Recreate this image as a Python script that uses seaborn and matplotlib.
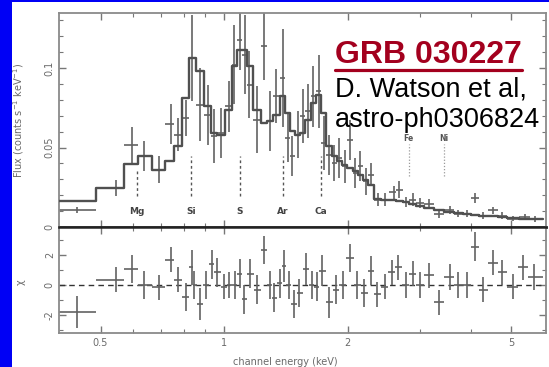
import numpy as np
import matplotlib
matplotlib.use('Agg')
import matplotlib.pyplot as plt
import seaborn as sns
from matplotlib.patches import Rectangle
from matplotlib.lines import Line2D

# ---------------- data ----------------
energy = [0.4385, 0.544, 0.598, 0.639, 0.695, 0.741, 0.772, 0.806, 0.835, 0.875,
          0.916, 0.946, 0.981, 1.030, 1.057, 1.092, 1.125, 1.152, 1.205, 1.253,
          1.291, 1.342, 1.391, 1.430, 1.466, 1.510, 1.555, 1.602, 1.650, 1.699,
          1.750, 1.803, 1.856, 1.911, 1.968, 2.027, 2.088, 2.150, 2.214, 2.281,
          2.372, 2.467, 2.592, 2.669, 2.776, 2.887, 3.002, 3.153, 3.344, 3.547,
          3.726, 3.913, 4.087, 4.275, 4.533, 4.762, 5.050, 5.410, 5.738]
flux = [0.0105, 0.0245, 0.0514, 0.0444, 0.0361, 0.0650, 0.0581, 0.0686, 0.1063, 0.0769,
        0.0706, 0.0570, 0.0591, 0.0759, 0.1021, 0.1178, 0.1084, 0.0895, 0.0675, 0.1136,
        0.0665, 0.0822, 0.0937, 0.0560, 0.0444, 0.0581, 0.0696, 0.0727, 0.0822, 0.0853,
        0.0528, 0.0455, 0.0403, 0.0434, 0.0382, 0.0549, 0.0340, 0.0382, 0.0287, 0.0329,
        0.0172, 0.0172, 0.0218, 0.0235, 0.0155, 0.0172, 0.0151, 0.0147, 0.0084, 0.0105,
        0.0084, 0.0084, 0.0182, 0.0071, 0.0105, 0.0071, 0.0052, 0.0063, 0.0050]
flux_err = [0.0020, 0.0050, 0.0115, 0.0094, 0.0084, 0.0126, 0.0105, 0.0115, 0.0270, 0.0230,
            0.0190, 0.0170, 0.0160, 0.0160, 0.0250, 0.0190, 0.0250, 0.0210, 0.0210, 0.0210,
            0.0190, 0.0170, 0.0310, 0.0150, 0.0126, 0.0150, 0.0170, 0.0170, 0.0190, 0.0230,
            0.0170, 0.0126, 0.0115, 0.0126, 0.0105, 0.0126, 0.0094, 0.0094, 0.0084, 0.0073,
            0.0042, 0.0042, 0.0042, 0.0052, 0.0031, 0.0042, 0.0031, 0.0031, 0.0025, 0.0025,
            0.0021, 0.0021, 0.0031, 0.0021, 0.0021, 0.0021, 0.0017, 0.0017, 0.0017]
model = [0.0166, 0.0245, 0.0396, 0.0449, 0.0361, 0.0413, 0.0507, 0.0811, 0.1063, 0.0983,
         0.0759, 0.0591, 0.0581, 0.0738, 0.1010, 0.1115, 0.1115, 0.1010, 0.0738, 0.0654,
         0.0665, 0.0706, 0.0822, 0.0717, 0.0602, 0.0581, 0.0591, 0.0675, 0.0780, 0.0832,
         0.0717, 0.0507, 0.0444, 0.0413, 0.0392, 0.0371, 0.0350, 0.0329, 0.0298, 0.0266,
         0.0176, 0.0172, 0.0172, 0.0166, 0.0155, 0.0147, 0.0134, 0.0119, 0.0105, 0.0096,
         0.0088, 0.0082, 0.0075, 0.0071, 0.0067, 0.0063, 0.0055, 0.0052, 0.0050]

res_energy = [0.4385, 0.544, 0.598, 0.639, 0.695, 0.741, 0.772, 0.806, 0.835, 0.846,
              0.875, 0.906, 0.934, 0.961, 1.000, 1.030, 1.061, 1.092, 1.121, 1.159,
              1.205, 1.253, 1.291, 1.322, 1.369, 1.396, 1.438, 1.481, 1.525, 1.586,
              1.634, 1.682, 1.733, 1.803, 1.874, 1.949, 2.027, 2.109, 2.193, 2.281,
              2.362, 2.467, 2.566, 2.658, 2.776, 2.887, 3.002, 3.153, 3.344, 3.547,
              3.726, 3.913, 4.087, 4.275, 4.533, 4.762, 5.050, 5.356, 5.682]
chi = [-1.79, 0.36, 1.05, 0.00, -0.15, 1.68, 0.36, -0.80, 1.16, 0.00,
       -1.26, 0.00, 1.37, 0.84, -0.11, 0.00, 0.00, 0.74, -0.95, 0.74,
       -0.32, 2.32, 0.00, -0.84, 0.11, 1.26, 0.00, -1.26, -0.53, 1.05,
       0.00, -0.11, 0.95, -1.16, -0.32, 0.00, 1.79, 0.00, -0.53, 0.95,
       -0.63, -0.11, 0.84, 1.16, 0.00, 0.74, 0.00, 0.63, -1.16, 0.53,
       0.00, 0.00, 2.53, -0.32, 1.47, 0.84, -0.11, 1.16, 0.53]
chi_err = [1.05, 0.84, 0.95, 0.95, 0.84, 0.84, 0.84, 0.95, 1.16, 0.95,
           1.05, 0.95, 0.95, 0.95, 0.84, 0.84, 0.95, 0.95, 0.95, 0.95,
           0.95, 0.95, 0.95, 0.95, 0.95, 1.05, 0.95, 0.95, 0.95, 1.05,
           0.95, 0.95, 1.05, 1.05, 0.95, 0.95, 0.95, 0.95, 0.95, 0.95,
           0.84, 0.84, 0.84, 0.84, 0.84, 0.84, 0.84, 0.84, 0.84, 0.84,
           0.84, 0.84, 0.95, 0.84, 0.84, 0.84, 0.84, 0.84, 0.84]

line_names = ['Mg', 'Si', 'S', 'Ar', 'Ca']
line_energy = [0.612, 0.832, 1.092, 1.390, 1.720]
heavy_names = ['Fe', 'Ni']
heavy_energy = [2.82, 3.44]

x_ticks = [0.5, 1, 2, 5]
x_ticklabels = ['0.5', '1', '2', '5']

# ---------------- style ----------------
sns.set_style('ticks')
plt.rcParams['font.family'] = ['DejaVu Sans']

W, H = 549, 367
fig = plt.figure(figsize=(W / 100, H / 100), dpi=100)
fig.patch.set_facecolor('white')
fig.add_artist(Rectangle((0, 0), 11.5 / W, 1, transform=fig.transFigure,
                         facecolor='#0000F5', edgecolor='none', zorder=0))
fig.add_artist(Rectangle((0, 1 - 2.2 / H), 1, 2.2 / H, transform=fig.transFigure,
                         facecolor='#0000F5', edgecolor='none', zorder=0))

L, R = 59, 546
ax1 = fig.add_axes([L / W, 1 - 227 / H, (R - L) / W, (227 - 13) / H])
ax2 = fig.add_axes([L / W, 1 - 333 / H, (R - L) / W, (333 - 227) / H], sharex=ax1)

def edges_of(e):
    e = np.asarray(e)
    inner = np.sqrt(e[:-1] * e[1:])
    return np.concatenate([[0.396], inner, [6.0]])

dcol = '#626262'
tcol = '#6a6a6a'

# ---- top panel ----
ed = edges_of(energy)
e = np.asarray(energy)
sns.lineplot(x=ed, y=list(model) + [model[-1]], drawstyle='steps-post',
             color='#505050', lw=1.7, ax=ax1, zorder=3)
ax1.errorbar(energy, flux, yerr=flux_err, xerr=[e - ed[:-1], ed[1:] - e],
             fmt='none', ecolor=dcol, elinewidth=1.2, capsize=0, zorder=2)

for name, le in zip(line_names, line_energy):
    top = 0.035 if name == 'Mg' else 0.0444
    ax1.plot([le, le], [0.0195, top], ls=(0, (2, 2)), color='#555555', lw=1.0)
    ax1.text(le, 0.0096, name, ha='center', va='center', fontsize=6.5,
             color='#444444', fontweight='bold')
for name, le in zip(heavy_names, heavy_energy):
    ax1.plot([le, le], [0.032, 0.0525], ls=(0, (1, 1.5)), color='#9a9a9a', lw=0.9)
    ax1.text(le, 0.0555, name, ha='center', va='center', fontsize=5.5,
             color='#555555', fontweight='bold')

ax1.set_xscale('log')
ax1.set_xlim(0.396, 6.09)
ax1.set_ylim(0, 0.1346)
ax1.set_yticks([0, 0.05, 0.1])
ax1.set_yticklabels(['0', '0.05', '0.1'])
ax1.set_yticks(np.arange(0, 0.135, 0.01), minor=True)
ax1.set_ylabel('Flux (counts s$^{-1}$ keV$^{-1}$)', fontsize=7, color=tcol)
ax1.yaxis.set_label_coords(-0.068, 0.5)
ax1.tick_params(axis='x', labelbottom=False)

# ---- bottom panel ----
er = edges_of(res_energy)
r = np.asarray(res_energy)
ax2.axhline(0, color='#333333', lw=1.0, ls=(0, (4, 3)), zorder=1)
ax2.errorbar(res_energy, chi, yerr=chi_err, xerr=[r - er[:-1], er[1:] - r],
             fmt='none', ecolor=dcol, elinewidth=1.2, capsize=0, zorder=2)
ax2.set_ylim(-3.18, 3.84)
ax2.set_yticks([-2, 0, 2])
ax2.set_yticklabels(['-2', '0', '2'])
ax2.set_yticks([-3, -1, 1, 3], minor=True)
ax2.set_ylabel('χ', fontsize=7, color=tcol)
ax2.yaxis.set_label_coords(-0.068, 0.48)
ax2.set_xticks(x_ticks)
ax2.set_xticklabels(x_ticklabels)
ax2.set_xticks([0.6, 0.7, 0.8, 0.9, 3, 4], minor=True)
ax2.set_xticklabels([], minor=True)
ax2.set_xlabel('channel energy (keV)', fontsize=7, color=tcol)
ax2.xaxis.set_label_coords(0.464, -0.226)

for ax in (ax1, ax2):
    ax.tick_params(which='both', direction='in', top=True, right=True,
                   color='#777777', labelsize=7, labelcolor=tcol)
    ax.tick_params(which='major', length=5, width=1.0)
    ax.tick_params(which='minor', length=3, width=0.8)
    ax.tick_params(axis='y', labelrotation=90, pad=3)
    for s in ax.spines.values():
        s.set_color('#8a8a8a')
        s.set_linewidth(1.3)
    ax.set_facecolor('white')
for lab in ax1.get_yticklabels() + ax2.get_yticklabels():
    lab.set_va('center')
ax1.spines['bottom'].set_color('#222222')
ax1.spines['bottom'].set_linewidth(1.8)
ax2.spines['top'].set_color('#222222')
ax2.spines['top'].set_linewidth(1.8)

# ---- annotation text ----
red = '#A3001E'
fig.text(335 / W, 1 - 63 / H, 'GRB 030227', fontsize=23, fontweight='bold',
         color=red, family=['Liberation Sans', 'DejaVu Sans'], ha='left', va='baseline')
fig.add_artist(Line2D([335 / W, 522 / W], [1 - 69.5 / H, 1 - 69.5 / H],
                      color=red, lw=2.3, transform=fig.transFigure))
fig.text(335 / W, 1 - 97 / H, 'D. Watson et al,', fontsize=19.5, color='black',
         family=['Liberation Sans', 'DejaVu Sans'], ha='left', va='baseline')
fig.text(335 / W, 1 - 127 / H, 'astro-ph0306824', fontsize=19.5, color='black',
         family=['Liberation Sans', 'DejaVu Sans'], ha='left', va='baseline')

fig.savefig('out.png', dpi=100, facecolor='white')
